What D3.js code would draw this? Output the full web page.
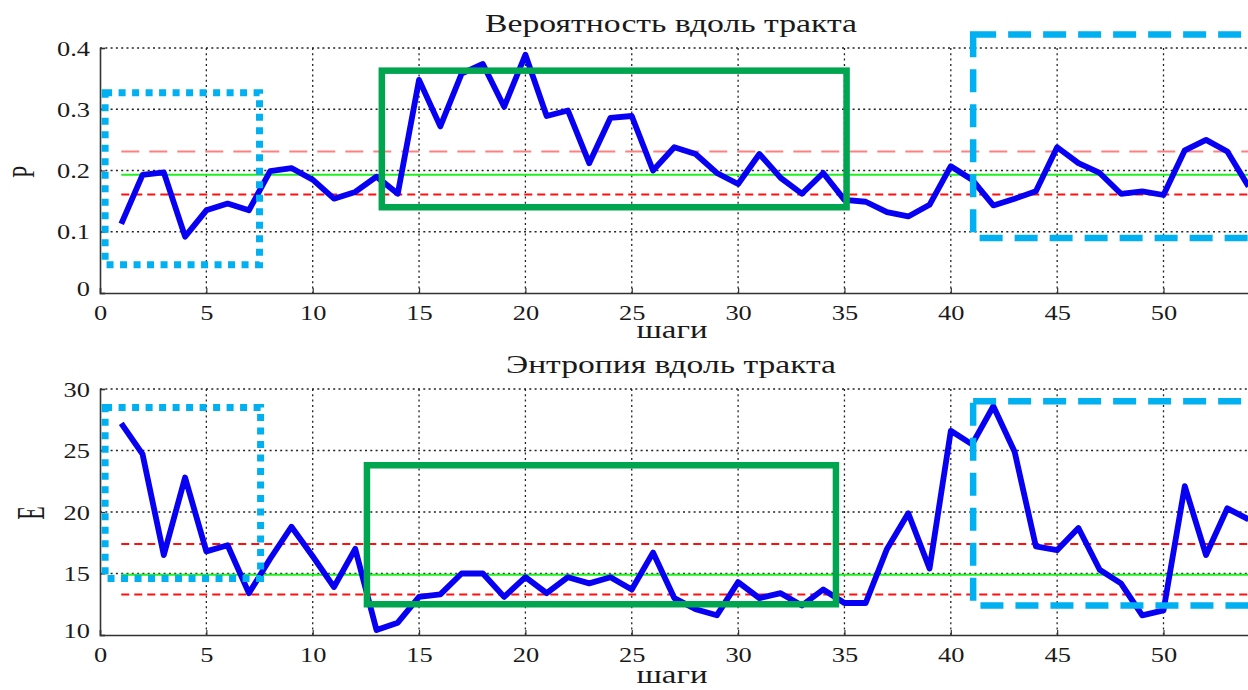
<!DOCTYPE html>
<html>
<head>
<meta charset="utf-8">
<script src="https://cdn.jsdelivr.net/npm/d3@7"></script>
<style>
  body { margin: 0; background: #fff; }
  svg { display: block; }
</style>
</head>
<body>
<svg id="chart" width="1248" height="690"></svg>
<script>
// steps along the tract (x values)
const steps = [1, 2, 3, 4, 5, 6, 7, 8, 9, 10, 11, 12, 13, 14, 15, 16, 17, 18,
  19, 20, 21, 22, 23, 24, 25, 26, 27, 28, 29, 30, 31, 32, 33, 34, 35, 36,
  37, 38, 39, 40, 41, 42, 43, 44, 45, 46, 47, 48, 49, 50, 51, 52, 53, 54];

// probability P along the tract
const probability = [0.113, 0.193, 0.197, 0.092, 0.135, 0.146, 0.135, 0.199, 0.204, 0.185,
  0.154, 0.165, 0.19, 0.162, 0.348, 0.272, 0.358, 0.374, 0.304, 0.389,
  0.289, 0.298, 0.212, 0.286, 0.289, 0.2, 0.238, 0.227, 0.196, 0.178,
  0.227, 0.188, 0.162, 0.196, 0.152, 0.149, 0.132, 0.125, 0.144, 0.207,
  0.185, 0.143, 0.154, 0.166, 0.238, 0.212, 0.196, 0.162, 0.166, 0.16,
  0.233, 0.25, 0.231, 0.174];

// entropy E along the tract
const entropy = [27.2, 24.7, 16.5, 22.8, 16.8, 17.3, 13.4, 16.2, 18.8, 16.4,
  13.9, 17.0, 10.4, 11.0, 13.1, 13.3, 15.0, 15.0, 13.1, 14.7,
  13.4, 14.7, 14.2, 14.7, 13.7, 16.7, 13.0, 12.1, 11.6, 14.3,
  13.0, 13.4, 12.4, 13.7, 12.6, 12.6, 17.0, 19.9, 15.4, 26.6,
  25.5, 28.6, 24.9, 17.2, 16.9, 18.7, 15.3, 14.2, 11.6, 12.0,
  22.1, 16.5, 20.3, 19.4];

// reference levels: upper bound, mean, lower bound
const pLevels = [0.231, 0.193, 0.161];
const eLevels = [17.4, 14.9, 13.3];

// tick labels
const xTicks = [0, 5, 10, 15, 20, 25, 30, 35, 40, 45, 50];
const pTicks = [0, 0.1, 0.2, 0.3, 0.4];
const eTicks = [10, 15, 20, 25, 30];

// highlighted regions [x0, x1] and [y0, y1] in data units
const pBoxX = [[0.24, 7.5], [13.25, 35.1], [41.05, 60]];
const pBoxY = [[0.046, 0.327], [0.14, 0.363], [0.09, 0.422]];
const eBoxX = [[0.24, 7.55], [12.55, 34.6], [41.05, 60]];
const eBoxY = [[14.6, 28.5], [12.5, 23.8], [12.4, 29.0]];

// pick the first serif font that is really installed
function pickFont(cands) {
  const c = document.createElement('canvas').getContext('2d');
  const sample = 'Вероятность вдоль 0.123 шаги';
  c.font = '40px monospace';
  const base = c.measureText(sample).width;
  for (const f of cands) {
    c.font = `40px "${f}", monospace`;
    if (Math.abs(c.measureText(sample).width - base) > 0.5) return `"${f}"`;
  }
  return 'serif';
}
const serif = pickFont(['Liberation Serif', 'Times New Roman', 'Tinos', 'DejaVu Serif', 'Noto Serif', 'FreeSerif']);

// the source picture is stretched sideways, so the glyphs are widened a bit
const stretch = 1.2;
function widen(sel, k) {
  sel.each(function () {
    const w = this.getComputedTextLength();
    d3.select(this).attr('textLength', w * k).attr('lengthAdjust', 'spacingAndGlyphs');
  });
}

const svg = d3.select('#chart');
svg.append('rect').attr('width', 1248).attr('height', 690).attr('fill', '#fff');

// the picture is cropped on the right, so the axes run past the svg edge
const xScale = d3.scaleLinear().domain([0, 60]).range([100, 100 + 60 * 21.27]);

const boxStyles = [
  { stroke: '#00b0f0', width: 7, dash: '7,6.5' },
  { stroke: '#00a550', width: 6.5, dash: null },
  { stroke: '#00b0f0', width: 6.5, dash: '23,12' }
];

function drawPanel(opts) {
  const g = svg.append('g');
  const y = d3.scaleLinear().domain(opts.yDomain).range([opts.bottom, opts.top]);

  // grid
  g.selectAll('.vgrid')
    .data(xTicks.filter(d => d > 0))
    .enter().append('line')
    .attr('x1', d => xScale(d)).attr('x2', d => xScale(d))
    .attr('y1', opts.top).attr('y2', opts.bottom)
    .attr('stroke', '#222').attr('stroke-width', 1.3)
    .attr('stroke-dasharray', '2,3.3');
  g.selectAll('.hgrid')
    .data(opts.yTicks.filter(d => d > opts.yDomain[0]))
    .enter().append('line')
    .attr('x1', 100).attr('x2', 1248)
    .attr('y1', d => y(d)).attr('y2', d => y(d))
    .attr('stroke', '#222').attr('stroke-width', 1.3)
    .attr('stroke-dasharray', '2,3.3');

  // axes (left and bottom solid)
  const xAxis = d3.axisBottom(xScale).tickValues(xTicks).tickSize(-5).tickPadding(7)
    .tickFormat(d3.format('d'));
  const yAxis = d3.axisLeft(y).tickValues(opts.yTicks).tickSize(-5).tickPadding(10)
    .tickFormat(opts.fmt);
  const gx = g.append('g').attr('transform', `translate(0,${opts.bottom})`).call(xAxis);
  const gy = g.append('g').attr('transform', 'translate(100,0)').call(yAxis);
  [gx, gy].forEach(a => {
    a.attr('font-family', null);
    a.select('.domain').attr('stroke', '#333').attr('stroke-width', 1.6);
    a.selectAll('.tick line').attr('stroke', '#333').attr('stroke-width', 1.2);
    a.selectAll('text').style('font-family', serif)
      .style('font-size', '22px').attr('fill', '#1a1a1a');
  });
  gx.selectAll('text').attr('dy', '0.9em');
  gy.selectAll('.tick').filter(d => d === opts.yDomain[0]).select('text').attr('dy', '0.1em');
  widen(gx.selectAll('text'), stretch);
  widen(gy.selectAll('text'), stretch);

  // reference levels
  g.append('line')
    .attr('x1', xScale(1)).attr('x2', 1248)
    .attr('y1', y(opts.levels[0])).attr('y2', y(opts.levels[0]))
    .attr('stroke', opts.upperColor).attr('stroke-width', 2)
    .attr('stroke-dasharray', opts.upperDash);
  g.append('line')
    .attr('x1', xScale(1)).attr('x2', 1248)
    .attr('y1', y(opts.levels[1])).attr('y2', y(opts.levels[1]))
    .attr('stroke', '#22ee22').attr('stroke-width', 2);
  g.append('line')
    .attr('x1', xScale(1)).attr('x2', 1248)
    .attr('y1', y(opts.levels[2])).attr('y2', y(opts.levels[2]))
    .attr('stroke', '#ff1010').attr('stroke-width', 2)
    .attr('stroke-dasharray', '8,5');

  // series
  const line = d3.line().x((d, i) => xScale(steps[i])).y(d => y(d));
  g.append('path')
    .datum(opts.values)
    .attr('d', line)
    .attr('fill', 'none')
    .attr('stroke', '#0800f2')
    .attr('stroke-width', 5.8)
    .attr('stroke-linejoin', 'round');

  // highlight boxes
  opts.boxX.forEach((bx, i) => {
    const by = opts.boxY[i];
    const st = boxStyles[i];
    g.append('rect')
      .attr('x', xScale(bx[0]))
      .attr('y', y(by[1]))
      .attr('width', xScale(bx[1]) - xScale(bx[0]))
      .attr('height', y(by[0]) - y(by[1]))
      .attr('fill', 'none')
      .attr('stroke', st.stroke)
      .attr('stroke-width', st.width)
      .attr('stroke-dasharray', st.dash);
  });

  // texts
  g.append('text').attr('x', 671).attr('y', opts.top - 16)
    .attr('text-anchor', 'middle').attr('fill', '#1a1a1a')
    .style('font-family', serif).style('font-size', '25px')
    .attr('textLength', opts.titleWidth).attr('lengthAdjust', 'spacingAndGlyphs')
    .text(opts.title);
  g.append('text').attr('x', 672).attr('y', opts.labelY)
    .attr('text-anchor', 'middle').attr('fill', '#1a1a1a')
    .style('font-family', serif).style('font-size', '25px')
    .attr('textLength', 71).attr('lengthAdjust', 'spacingAndGlyphs')
    .text('шаги');
  g.append('text')
    .attr('transform', `translate(${opts.yLabelX},${opts.yLabelY}) scale(${opts.yLabelK},1) rotate(-90)`)
    .attr('text-anchor', 'middle').attr('dy', '0.35em').attr('fill', '#1a1a1a')
    .style('font-family', serif).style('font-size', '22px')
    .text(opts.yLabel);
}

drawPanel({
  top: 48, bottom: 293, yDomain: [0, 0.4], yTicks: pTicks, fmt: d => d === 0 ? '0' : d3.format('.1f')(d),
  values: probability, levels: pLevels, upperColor: '#ff8080', upperDash: '18,10',
  boxX: pBoxX, boxY: pBoxY, title: 'Вероятность вдоль тракта', titleWidth: 372,
  labelY: 338, yLabel: 'P', yLabelX: 22.5, yLabelY: 172, yLabelK: 1.45
});

drawPanel({
  top: 389, bottom: 635, yDomain: [10, 30], yTicks: eTicks, fmt: d3.format('d'),
  values: entropy, levels: eLevels, upperColor: '#ff1010', upperDash: '8,5',
  boxX: eBoxX, boxY: eBoxY, title: 'Энтропия вдоль тракта', titleWidth: 330,
  labelY: 683, yLabel: 'E', yLabelX: 30, yLabelY: 513, yLabelK: 1.8
});
</script>
</body>
</html>
